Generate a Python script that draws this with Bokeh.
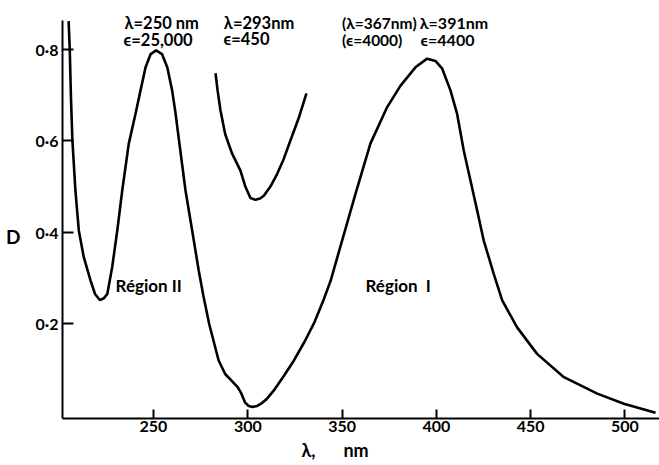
from bokeh.plotting import figure
from bokeh.models import Label, Range1d, FixedTicker, LinearAxis
from bokeh.embed import file_html
from bokeh.resources import INLINE

# Main absorption spectrum (wavelength in nm, optical density D)
wavelength = [205.0, 205.6, 206.2, 207.0, 208.6, 210.4, 213.0, 216.6, 219.0, 221.5,
              223.5, 225.5, 228.1, 230.8, 233.4, 236.9, 240.5, 243.1, 245.8, 248.5,
              251.4, 254.5, 257.3, 259.9, 261.7, 263.4, 267.0, 270.5, 274.0, 276.5,
              279.5, 284.5, 288.0, 291.5, 294.5, 296.5, 298.5, 300.5, 302.5, 305.0,
              307.0, 310.0, 313.8, 319.0, 324.4, 330.0, 335.0, 340.0, 344.0, 350.0,
              357.1, 365.0, 373.9, 381.0, 388.9, 395.1, 399.5, 403.1, 407.5, 411.0,
              414.5, 418.1, 421.6, 425.1, 430.4, 434.9, 442.8, 453.4, 467.6, 485.3,
              499.4, 516.2]
absorbance = [0.862, 0.80, 0.70, 0.601, 0.491, 0.404, 0.346, 0.295, 0.265, 0.252,
              0.255, 0.265, 0.324, 0.404, 0.491, 0.594, 0.66, 0.71, 0.761, 0.79,
              0.798, 0.79, 0.761, 0.71, 0.66, 0.605, 0.491, 0.404, 0.316, 0.26,
              0.2, 0.12, 0.09, 0.075, 0.062, 0.048, 0.028, 0.02, 0.018, 0.02,
              0.025, 0.035, 0.054, 0.085, 0.119, 0.16, 0.2, 0.25, 0.295, 0.382,
              0.484, 0.594, 0.674, 0.721, 0.761, 0.78, 0.775, 0.758, 0.71, 0.659,
              0.579, 0.513, 0.448, 0.382, 0.309, 0.251, 0.192, 0.134, 0.083, 0.047,
              0.025, 0.005]

# Expanded trace around the 293 nm band
inset_wavelength = [282.9, 284.0, 285.5, 288.0, 291.7, 296.1, 298.8, 301.4, 304.1,
                    306.5, 308.5, 312.0, 315.6, 319.0, 322.6, 327.0, 331.1]
inset_absorbance = [0.748, 0.71, 0.667, 0.615, 0.572, 0.535, 0.499, 0.475, 0.471,
                    0.474, 0.48, 0.5, 0.528, 0.56, 0.601, 0.65, 0.704]

x_ticks = [250, 300, 350, 400, 450, 500]
y_ticks = [0.2, 0.4, 0.6, 0.8]
y_tick_labels = ["0·2", "0·4", "0·6", "0·8"]

# Axis titles, placed as tick labels of an outer axis
y_title = "D"
y_title_at = 0.39
x_title_parts = ["λ,", "nm"]
x_title_at = [332.2, 357.4]

# Annotations: (text, x, y, size)
annotations = [
    ("λ=250 nm", 234.6, 0.857, "16.5px"),
    ("ϵ=25,000", 234.1, 0.820, "16.5px"),
    ("λ=293nm", 287.3, 0.859, "16.5px"),
    ("ϵ=450", 287.1, 0.822, "16.5px"),
    ("(λ=367nm)", 350.0, 0.858, "15.5px"),
    ("λ=391nm", 391.2, 0.858, "16px"),
    ("(ϵ=4000)", 350.0, 0.821, "15.5px"),
    ("ϵ=4400", 391.6, 0.821, "16px"),
    ("Région II", 229.9, 0.284, "17px"),
    ("Région\u00a0\u00a0I", 362.4, 0.284, "17px"),
]

FONT = "Lato"
Y_LO, Y_HI = -0.0074, 0.9072
Y_AXIS_TOP = 0.8635

p = figure(width=659, height=465, output_backend="svg", toolbar_location=None,
           x_range=Range1d(201.75, 518.3), y_range=Range1d(Y_LO, Y_HI),
           min_border_left=62, min_border_right=0, min_border_top=0,
           min_border_bottom=47)
p.outline_line_color = None
p.grid.visible = False
p.background_fill_color = "white"
p.border_fill_color = "white"

p.line(wavelength, absorbance, line_color="black", line_width=2.6)
p.line(inset_wavelength, inset_absorbance, line_color="black", line_width=2.6)

for ax in (p.xaxis[0], p.yaxis[0]):
    ax.axis_line_width = 2
    ax.axis_line_color = "black"
    ax.major_tick_line_width = 2
    ax.major_tick_line_color = "black"
    ax.major_tick_out = 0
    ax.minor_tick_line_color = None
    ax.major_label_text_font = FONT
    ax.major_label_text_font_style = "bold"
    ax.major_label_text_font_size = "16px"
    ax.major_label_text_color = "black"

p.xaxis.ticker = FixedTicker(ticks=x_ticks)
p.xaxis.major_tick_in = 9
p.xaxis.major_label_standoff = 2
p.yaxis.ticker = FixedTicker(ticks=y_ticks)
p.yaxis.major_tick_in = 11
p.yaxis.major_label_standoff = 4
p.yaxis.major_label_overrides = dict(zip(y_ticks, y_tick_labels))
p.yaxis.bounds = (Y_LO, Y_AXIS_TOP)


def title_axis(axis):
    axis.axis_line_color = None
    axis.major_tick_line_color = None
    axis.minor_tick_line_color = None
    axis.major_tick_in = 0
    axis.major_tick_out = 0
    axis.major_label_text_font = FONT
    axis.major_label_text_font_style = "bold"
    axis.major_label_text_color = "black"
    return axis


y_title_axis = title_axis(LinearAxis(ticker=FixedTicker(ticks=[y_title_at]),
                                     major_label_overrides={y_title_at: y_title}))
y_title_axis.major_label_text_font_size = "19px"
y_title_axis.major_label_standoff = 12
p.add_layout(y_title_axis, "left")

x_title_axis = title_axis(LinearAxis(ticker=FixedTicker(ticks=x_title_at),
                                     major_label_overrides=dict(zip(x_title_at, x_title_parts))))
x_title_axis.major_label_text_font_size = "18px"
x_title_axis.major_label_standoff = 4
p.add_layout(x_title_axis, "below")

for text, x, y, size in annotations:
    p.add_layout(Label(x=x, y=y, text=text, text_font=FONT, text_font_style="bold",
                       text_font_size=size, text_align="left",
                       text_baseline="middle", text_color="black"))

open("out.html", "w").write(file_html(p, INLINE))
